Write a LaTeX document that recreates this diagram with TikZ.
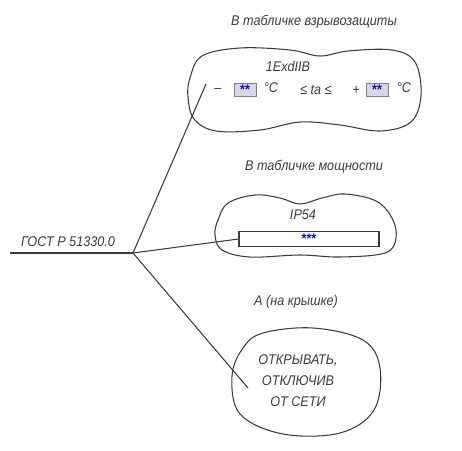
\documentclass[tikz,border=0pt]{standalone}
\usepackage{fontspec}
\setmainfont{Liberation Sans}[FakeStretch=0.9]
\definecolor{inkgray}{RGB}{60,60,60}
\definecolor{starblue}{RGB}{20,20,170}
\definecolor{boxfill}{RGB}{215,215,235}
\begin{document}
\begin{tikzpicture}[x=0.02cm, y=-0.02cm, font=\fontsize{8}{10}\selectfont\itshape,
    txt/.style={draw=none, text=inkgray, inner sep=0pt},
    bubble/.style={inkgray, line width=0.6pt},
    lead/.style={inkgray, line width=0.6pt},
    starbox/.style={draw=gray, fill=boxfill, minimum width=0.44cm, minimum height=0.26cm, inner sep=0pt, text=starblue, font=\fontsize{8}{8}\selectfont\bfseries}]
    \useasboundingbox (0,0) rectangle (462,450);

    % base line with standard
    \node [txt, name=gost] at (68,242) {ГОСТ Р 51330.0};
    \coordinate (j) at (133,253);
    \coordinate (b0) at (10,253);
    \draw [lead] (b0) -- (j);

    % explosion protection plate
    \node [txt, name=t1] at (314,22) {В табличке взрывозащиты};
    \draw [bubble] plot [smooth cycle, tension=0.6] coordinates {(190,78) (202,56) (240,48) (290,50) (320,56) (348,51) (392,50) (415,62) (421,95) (411,122) (380,131) (340,125) (300,122) (260,130) (216,131) (194,119) (188,97)};
    \node [txt, name=ex] at (288,66) {1ExdIIB};
    \node [txt, name=m1] at (218,90) {–};
    \node [starbox, name=s1] at (245,90) {\raisebox{-0.5ex}{**}};
    \node [txt, name=c1] at (271,88) {°С};
    \node [txt, name=ta] at (316,90) {≤ tа ≤};
    \node [txt, name=m2] at (356,90) {+};
    \node [starbox, name=s2] at (377,90) {\raisebox{-0.5ex}{**}};
    \node [txt, name=c2] at (404,88) {°С};
    \coordinate (e1) at (206,84);
    \draw [lead] (j) -- (e1);

    % power plate
    \node [txt, name=t2] at (314,167) {В табличке мощности};
    \draw [bubble] plot [smooth cycle, tension=0.6] coordinates {(218,220) (228,203) (255,195) (280,198) (300,204) (322,198) (345,194) (376,201) (392,218) (396,238) (385,253) (340,257) (300,255) (250,257) (222,250) (215,235)};
    \node [txt, name=ip] at (303,215) {IP54};
    \node [draw=inkgray, line width=0.6pt, minimum width=2.8cm, minimum height=0.3cm, inner sep=0pt, text=starblue, font=\fontsize{8}{8}\selectfont\bfseries, name=pw] at (309,239) {\raisebox{-0.5ex}{***}};
    \draw [lead] (j) -- (pw.west);

    % cover
    \node [txt, name=t3] at (296,302) {А (на крышке)};
    \draw [bubble] plot [smooth cycle, tension=0.6] coordinates {(243,348) (263,333) (313,328) (363,340) (380,368) (374,410) (340,433) (283,434) (240,414) (232,376)};
    \node [txt, align=center, name=warn] at (298,381) {ОТКРЫВАТЬ,\\[2pt]ОТКЛЮЧИВ\\[2pt]ОТ СЕТИ};
    \coordinate (e3) at (248,388);
    \draw [lead] (j) -- (e3);
\end{tikzpicture}
\end{document}
